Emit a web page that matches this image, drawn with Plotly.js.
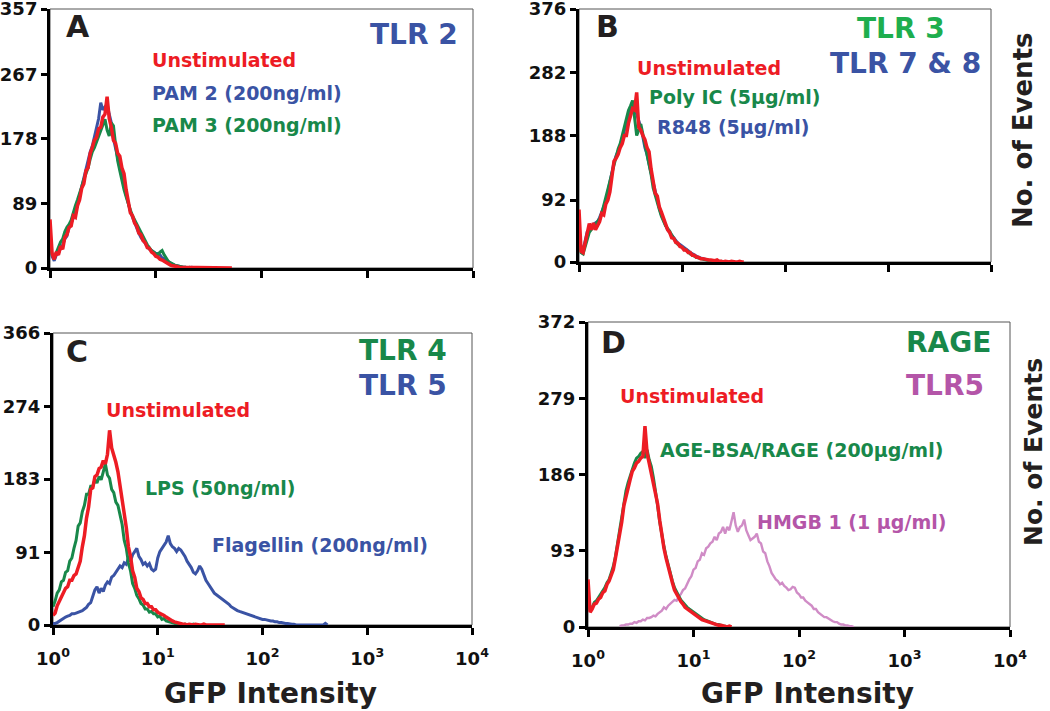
<!DOCTYPE html>
<html>
<head>
<meta charset="utf-8">
<script src="https://cdn.plot.ly/plotly-3.0.1.min.js"></script>
<style>html,body{margin:0;padding:0;background:#fff;}#chart{width:1050px;height:711px;}</style>
</head>
<body>
<div id="chart"></div>
<script>
// GFP intensity channels (log spacing, 0.02 decade)
const gfpIntensity = [
  1.000,1.047,1.096,1.148,1.202,1.259,1.318,1.380,1.445,1.514,
  1.585,1.660,1.738,1.820,1.905,1.995,2.089,2.188,2.291,2.399,
  2.512,2.630,2.754,2.884,3.020,3.162,3.311,3.467,3.631,3.802,
  3.981,4.169,4.365,4.571,4.786,5.012,5.248,5.495,5.754,6.026,
  6.310,6.607,6.918,7.244,7.586,7.943,8.318,8.710,9.120,9.550,
  10.00,10.47,10.96,11.48,12.02,12.59,13.18,13.80,14.45,15.14,
  15.85,16.60,17.38,18.20,19.05,19.95,20.89,21.88,22.91,23.99,
  25.12,26.30,27.54,28.84,30.20,31.62,33.11,34.67,36.31,38.02,
  39.81,41.69,43.65,45.71,47.86,50.12,52.48,54.95,57.54,60.26,
  63.10,66.07,69.18,72.44,75.86,79.43,83.18,87.10,91.20,95.50,
  100.0,104.7,109.6,114.8,120.2,125.9,131.8,138.0,144.5,151.4,
  158.5,166.0,173.8,182.0,190.5,199.5,208.9,218.8,229.1,239.9,
  251.2,263.0,275.4,288.4,302.0,316.2,331.1,346.7,363.1,380.2,
  398.1,416.9];

// Panel A (TLR 2)
const aUnstim = [67,20,12,22,18,30,26,42,46,56, 58,72,70,86,94,110,116,134,138,158,
  166,176,180,192,194,208,212,236,206,194, 176,172,158,154,138,130,108,92,76,72,
  62,58,48,46,38,35,28,27,22,20, 16,15,12,11,9,7,6,4,3,3, 2,1,1,0,1,0,0,1,0,0,
  1,0,0,0,1,0,0,0,0,1, 0,0,0,0,0,1,0];
const aPam2 = [40,16,10,18,20,28,32,40,44,56, 62,70,76,88,100,108,120,134,148,160,
  168,180,194,206,228,218,222,226,212,200, 178,166,152,140,126,112,100,90,78,70,
  62,56,48,42,38,34,30,26,24,22, 20,20,18,14,12,10,8,6,5,4, 3,2,2,1,1,0,0,1,0,0];
const aPam3 = [30,18,14,22,28,36,40,50,56,60, 66,78,86,94,102,112,122,130,138,150,
  160,166,174,182,190,198,205,190,182,200, 196,170,148,134,120,108,98,88,80,72,
  66,60,54,48,42,36,32,28,24,22, 20,18,22,24,18,14,9,7,5,4, 3,2,2,1,1,0,1,0,0,0,
  0,1,0,0,0,1,0];

// Panel B (TLR 3, TLR 7 & 8)
const bUnstim = [78,16,14,30,40,57,48,58,48,54, 60,72,70,86,92,104,128,150,154,160,
  170,176,188,188,206,220,228,226,252,200, 196,188,182,170,164,138,120,102,98,82,
  74,64,58,48,44,36,35,29,28,23, 22,18,18,14,14,10,10,7,7,5, 5,4,4,3,3,2,2,3,1,1,
  0,1,0,0,1,0,0,0,1,0,0];
const bPolyIC = [30,14,12,24,36,44,48,52,56,60, 64,72,84,96,108,120,134,146,160,168,
  176,188,200,212,225,232,240,214,188,196, 205,190,175,162,150,130,110,98,88,78,
  68,60,54,50,46,40,34,30,26,24, 22,20,18,15,12,10,8,7,6,5, 4,3,3,2,2,1,1,0,0,1,0];
const bR848 = [40,22,18,30,45,48,50,56,58,60, 66,74,80,90,104,120,136,148,158,166,
  172,184,196,208,220,228,232,226,220,210, 200,186,170,160,148,132,118,104,92,80,
  70,62,54,48,44,40,36,32,28,26, 24,22,20,17,14,12,10,8,7,6, 5,4,3,2,2,1,1,1,1,0,0,1,0];

// Panel C (TLR 4, TLR 5)
const cUnstim = [12,15,24,30,36,40,46,48,56,56, 62,64,72,80,98,112,134,148,170,172,
  186,188,196,198,206,202,214,244,222,214, 204,192,174,162,138,122,98,86,68,60,
  46,42,34,32,27,27,23,23,19,19, 16,15,14,12,10,8,6,5,4,3, 2,2,1,1,0,1,0,0,1,0,
  0,0,1,0,0,0,1,0,0,0, 0,1,0];
const cLPS = [23,30,40,44,54,56,66,68,80,84, 96,106,124,128,142,150,164,164,174,174,
  182,178,186,182,192,202,188,184,170,166, 154,150,138,126,106,96,78,68,52,46,
  37,33,27,25,20,20,16,17,14,14, 10,11,7,8,5,4,3,2,2,1, 1,0,0,1,0,0,0,1,0];
const cFlagellin = [2,2,3,5,6,8,10,11,12,14, 14,15,16,16,18,20,22,26,28,36,
  44,48,40,46,42,50,54,52,60,62, 66,69,74,72,78,76,84,80,88,92,
  96,86,82,76,78,74,77,70,68,70, 84,92,96,100,104,112,102,98,96,92,
  96,94,90,86,80,76,72,66,64,68, 74,70,62,56,52,48,44,40,38,36,
  35,33,31,28,26,23,21,19,18,17, 16,15,14,13,12,11,10,9,9,8,
  7,7,6,6,5,5,4,4,3,3, 2,2,2,1,1,1,0,0,0,0, 0,0,0,0,0,0,0,0,0,0, 2,0];

// Panel D (RAGE, TLR5)
const dUnstim = [58,18,22,28,29,34,36,42,44,52, 56,64,70,84,98,114,128,148,160,172,
  180,190,194,200,202,206,208,245,212,200, 188,178,164,150,130,112,96,84,73,62,
  54,45,40,35,31,28,24,22,20,18, 17,15,13,11,9,8,7,6,5,4, 4,3,2,2,1,1,0,1,0];
const dAgeBsa = [30,20,24,30,32,36,40,44,48,54, 58,66,74,86,102,118,134,150,166,176,
  184,194,200,206,208,212,214,206,216,204, 196,182,166,148,128,110,98,86,76,64,
  56,48,42,38,33,30,26,24,22,20, 18,17,15,13,11,9,8,7,6,5, 4,3,3,2,1,1,0,0];
const dHmgb1 = [null,null,null,null,null,null,null,null,null,null, null,null,null,null,null,1,2,2,3,3,
  4,4,6,5,7,7,9,8,11,11, 12,14,13,16,18,20,24,22,26,28, 30,33,32,37,40,45,47,53,58,62,
  70,72,80,82,90,88,96,98,102,104, 110,106,114,116,122,114,122,118,128,140,
  124,116,122,124,131,118,112,106,108,110, 114,104,102,92,90,80,74,66,62,58,
  56,52,54,50,48,45,46,49,48,42, 40,36,36,32,30,28,26,22,22,18,
  16,14,12,12,10,8,7,6,6,4, 3,3,2,2,1,1,0];

// Axis ticks
const tickA = [0,89,178,267,357];
const tickB = [0,92,188,282,376];
const tickC = [0,91,183,274,366];
const tickD = [0,93,186,279,372];
const xTickVals = [1,10,100,1000,10000];
const xTickText = ['10<sup>0</sup>','10<sup>1</sup>','10<sup>2</sup>','10<sup>3</sup>','10<sup>4</sup>'];

const RED = '#ED1C24', BLUE = '#3A53A4', GREEN = '#18884A', LGREEN = '#1EAE4E', PINK = '#B455A8', PINKLINE = '#D08CC6';
const FONT = 'DejaVu Sans, Arial, sans-serif';
const W = 1050, H = 711;
const px = v => v / W, py = v => 1 - v / H;

function tr(y, n, color, width) {
  const s = n === 1 ? '' : String(n);
  return {x: gfpIntensity.slice(0, y.length), y: y, xaxis: 'x' + s, yaxis: 'y' + s,
    type: 'scatter', mode: 'lines', line: {color: color, width: width || 3}, hoverinfo: 'skip', connectgaps: false};
}

const data = [
  tr(aPam2, 1, BLUE), tr(aPam3, 1, GREEN), tr(aUnstim, 1, RED, 3.5),
  tr(bR848, 2, BLUE), tr(bPolyIC, 2, GREEN), tr(bUnstim, 2, RED, 3.5),
  tr(cFlagellin, 3, BLUE), tr(cLPS, 3, GREEN), tr(cUnstim, 3, RED, 3.5),
  tr(dHmgb1, 4, PINKLINE, 2.4), tr(dAgeBsa, 4, GREEN), tr(dUnstim, 4, RED, 3.5)
];

function xa(l, r, anchor, labels) {
  return {type: 'log', range: [0, 4], domain: [px(l), px(r)], anchor: anchor,
    tickvals: xTickVals, ticktext: xTickText, showticklabels: labels, ticklabelstandoff: 8,
    ticklabeloverflow: 'allow',
    tickfont: {family: FONT, size: 18, color: '#111', weight: 'bold'},
    ticks: 'outside', ticklen: 7, tickwidth: 3, tickcolor: '#000',
    showline: true, linewidth: 3, linecolor: '#000', showgrid: false, zeroline: false, fixedrange: true};
}
function ya(t, b, max, vals, anchor) {
  return {range: [0, max], domain: [py(b), py(t)], anchor: anchor, tickvals: vals,
    ticklabeloverflow: 'allow',
    tickfont: {family: FONT, size: 18, color: '#111', weight: 'bold'},
    ticks: 'outside', ticklen: 6, tickwidth: 3, tickcolor: '#000',
    showline: true, linewidth: 3, linecolor: '#000', showgrid: false, zeroline: false, fixedrange: true};
}

function ann(text, x, y, size, color, anchor, angle) {
  return {text: '<b>' + text + '</b>', x: px(x), y: py(y), xref: 'paper', yref: 'paper',
    xanchor: anchor || 'left', yanchor: 'middle', showarrow: false, textangle: angle || 0,
    font: {family: FONT, size: size, color: color}};
}
function frame(n) {
  const s = n === 1 ? '' : String(n);
  return {type: 'rect', xref: 'x' + s + ' domain', yref: 'y' + s + ' domain', x0: 0, x1: 1, y0: 0, y1: 1,
    line: {color: '#555', width: 1}, layer: 'below'};
}

const layout = {
  width: W, height: H, margin: {l: 0, r: 0, t: 0, b: 0},
  paper_bgcolor: '#fff', plot_bgcolor: 'rgba(0,0,0,0)', showlegend: false,
  xaxis: xa(50, 473, 'y', false), yaxis: ya(9, 268, 357, tickA, 'x'),
  xaxis2: xa(579, 991, 'y2', false), yaxis2: ya(9, 262, 376, tickB, 'x2'),
  xaxis3: xa(53, 472, 'y3', true), yaxis3: ya(333, 625, 366, tickC, 'x3'),
  xaxis4: xa(588, 1010, 'y4', true), yaxis4: ya(322, 627, 372, tickD, 'x4'),
  shapes: [frame(1), frame(2), frame(3), frame(4)],
  annotations: [
    ann('A', 78, 27, 30, '#231F20', 'center'),
    ann('TLR 2', 460, 34, 28, BLUE, 'right'),
    ann('Unstimulated', 150, 60, 19, RED),
    ann('PAM 2 (200ng/ml)', 150, 93, 19, BLUE),
    ann('PAM 3 (200ng/ml)', 150, 125, 19, GREEN),

    ann('B', 607, 27, 30, '#231F20', 'center'),
    ann('TLR 3', 901, 29, 28, LGREEN, 'center'),
    ann('TLR 7 &amp; 8', 905, 63, 28, BLUE, 'center'),
    ann('Unstimulated', 635, 68, 19, RED),
    ann('Poly IC (5µg/ml)', 647, 97, 19, GREEN),
    ann('R848 (5µg/ml)', 655, 127, 19, BLUE),
    ann('No. of Events', 1023, 130, 26, '#231F20', 'center', -90),

    ann('C', 77, 351, 30, '#231F20', 'center'),
    ann('TLR 4', 449, 350, 28, GREEN, 'right'),
    ann('TLR 5', 449, 385, 28, BLUE, 'right'),
    ann('Unstimulated', 104, 410, 19, RED),
    ann('LPS (50ng/ml)', 143, 488, 19, GREEN),
    ann('Flagellin (200ng/ml)', 210, 545, 19, BLUE),
    ann('GFP Intensity', 270, 693, 28, '#231F20', 'center'),

    ann('D', 613, 343, 30, '#231F20', 'center'),
    ann('RAGE', 993, 342, 28, GREEN, 'right'),
    ann('TLR5', 986, 386, 28, PINK, 'right'),
    ann('Unstimulated', 618, 396, 19, RED),
    ann('AGE-BSA/RAGE (200µg/ml)', 658, 450, 19, GREEN),
    ann('HMGB 1 (1 µg/ml)', 755, 522, 19, PINK),
    ann('GFP Intensity', 807, 693, 28, '#231F20', 'center'),
    ann('No. of Events', 1033, 452, 25, '#231F20', 'center', -90)
  ]
};

Plotly.newPlot('chart', data, layout, {staticPlot: true, displayModeBar: false});
</script>
</body>
</html>
